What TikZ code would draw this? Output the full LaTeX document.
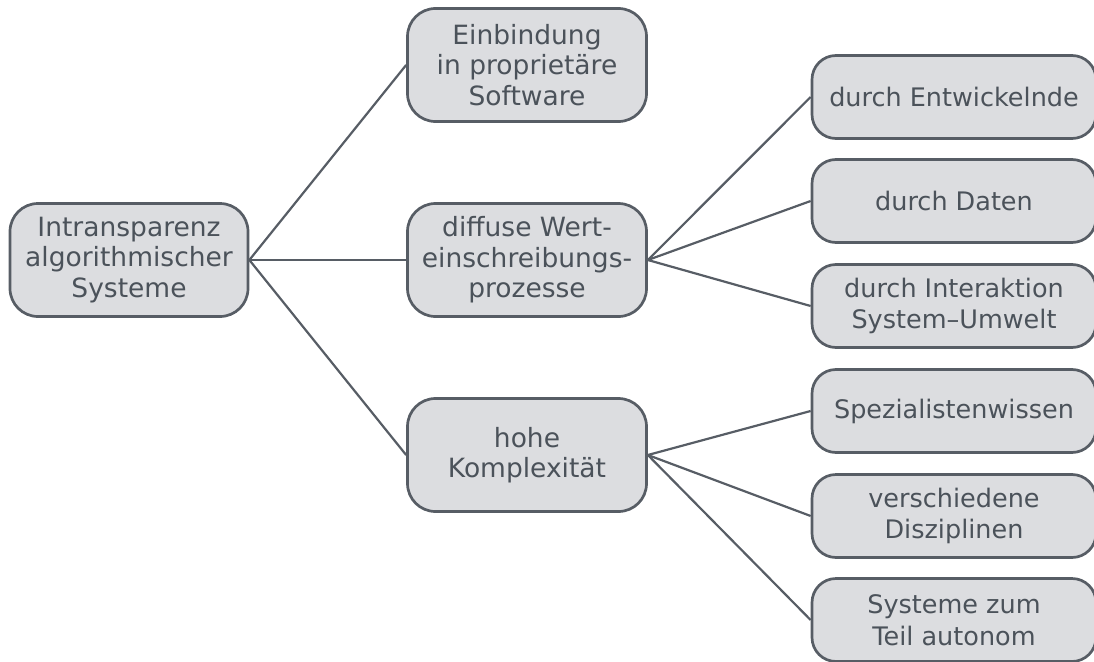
\documentclass[tikz,border=0pt]{standalone}
\usepackage{fontspec}
\setmainfont{DejaVu Sans}
\definecolor{boxfill}{HTML}{DCDDE0}
\definecolor{boxline}{HTML}{575D65}
\definecolor{txt}{HTML}{4B525A}
\begin{document}
\begin{tikzpicture}[x=1pt,y=-1pt,
  box/.style={draw=boxline, line width=2.7pt, fill=boxfill, rounded corners=28pt, align=center, text=txt, font=\fontsize{26.5}{30.5}\selectfont, inner sep=0pt},
  mid/.style={box, minimum width=239pt, minimum height=113pt},
  leaf/.style={box, minimum width=284pt, minimum height=83pt, rounded corners=24pt, font=\fontsize{25.5}{31.5}\selectfont},
  link/.style={draw=boxline, line width=2.2pt}]
\clip (0,0) rectangle (1094,661);
\node[mid, minimum width=238pt] (root) at (129,260) {Intransparenz\\algorithmischer\\Systeme};
\node[mid] (m1) at (527,65) {Einbindung\\in proprietäre\\Software};
\node[mid] (m2) at (527,260) {diffuse Wert-\\einschreibungs-\\prozesse};
\node[mid] (m3) at (527,455) {hohe\\Komplexität};
\node[leaf] (l1) at (954,97) {durch Entwickelnde};
\node[leaf] (l2) at (954,201) {durch Daten};
\node[leaf] (l3) at (954,306) {durch Interaktion\\System–Umwelt};
\node[leaf] (l4) at (954,411) {Spezialistenwissen};
\node[leaf] (l5) at (954,516) {verschiedene\\Disziplinen};
\node[leaf] (l6) at (954,620) {Systeme zum\\Teil autonom};
\foreach \m in {m1,m2,m3} \draw[link] (root.east) -- (\m.west);
\foreach \l in {l1,l2,l3} \draw[link] (m2.east) -- (\l.west);
\foreach \l in {l4,l5,l6} \draw[link] (m3.east) -- (\l.west);
\end{tikzpicture}
\end{document}
